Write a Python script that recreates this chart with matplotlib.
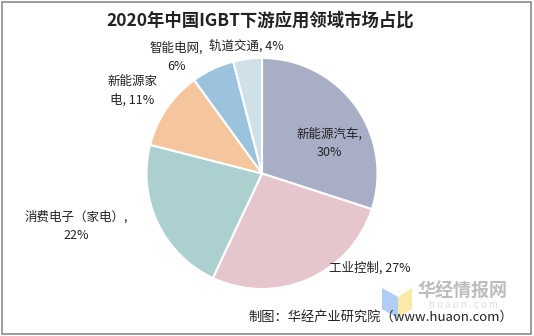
import matplotlib.pyplot as plt
from matplotlib.patches import Polygon, Rectangle

plt.rcParams['font.family'] = ['Noto Sans CJK SC', 'DejaVu Sans']

# 2020 IGBT downstream application shares (%)
names = ['新能源汽车', '工业控制', '消费电子（家电）', '新能源家电', '智能电网', '轨道交通']
shares = [30, 27, 22, 11, 6, 4]
colors = ['#a9aec7', '#e6c6cd', '#acd0d0', '#f5c59d', '#9cc3de', '#d0e0e9']

W, H = 534, 336
fig = plt.figure(figsize=(W / 100, H / 100), dpi=100)
ax = fig.add_axes([0, 0, 1, 1])

ax.pie(shares, colors=colors, startangle=90, counterclock=False,
       center=(262, H - 173.5), radius=115.5, frame=True,
       wedgeprops=dict(edgecolor='white', linewidth=1.5))
ax.set_xlim(0, W)
ax.set_ylim(0, H)
ax.set_aspect('equal')
ax.axis('off')

# label text: name, value%
lab = {n: (n, v) for n, v in zip(names, shares)}
txt = dict(fontsize=9, color='#222222', ha='center', va='center', linespacing=1.5)
ax.text(329, H - 143, '%s,\n%d%%' % lab['新能源汽车'], **txt)
ax.text(370, H - 268, '%s, %d%%' % lab['工业控制'], **txt)
ax.text(76, H - 226, '%s,\n%d%%' % lab['消费电子（家电）'], **txt)
n, v = lab['新能源家电']
ax.text(132, H - 91, '%s\n%s, %d%%' % (n[:4], n[4:], v), **txt)
ax.text(176, H - 57, '%s,\n%d%%' % lab['智能电网'], **txt)
ax.text(246, H - 46, '%s, %d%%' % lab['轨道交通'], **txt)

ax.text(260, H - 21, '2020年中国IGBT下游应用领域市场占比', fontsize=12.5,
        fontweight='bold', ha='center', va='center', color='#222222')

# watermark
ax.add_patch(Polygon([(382, H - 288), (398, H - 297), (398, H - 318), (382, H - 309)],
                     closed=True, color='#a8c8f5', alpha=0.9, lw=0))
ax.add_patch(Polygon([(398, H - 297), (412, H - 288), (412, H - 309), (398, H - 318)],
                     closed=True, color='#fbe7a0', alpha=0.9, lw=0))
ax.text(463, H - 291, '华经情报网', fontsize=13, fontweight='bold', color='#bdbdbd',
        ha='center', va='center')
ax.text(463, H - 305, 'h u a o n . c o m', fontsize=7, color='#dddddd',
        ha='center', va='center')

ax.text(513, H - 317, '制图：华经产业研究院（www.huaon.com）', fontsize=9.5,
        color='#222222', ha='right', va='center')

ax.add_patch(Rectangle((1.5, 2.5), 529, 332, fill=False, edgecolor='#8c8c8c', lw=1.2))

fig.savefig('out.png', dpi=100)
